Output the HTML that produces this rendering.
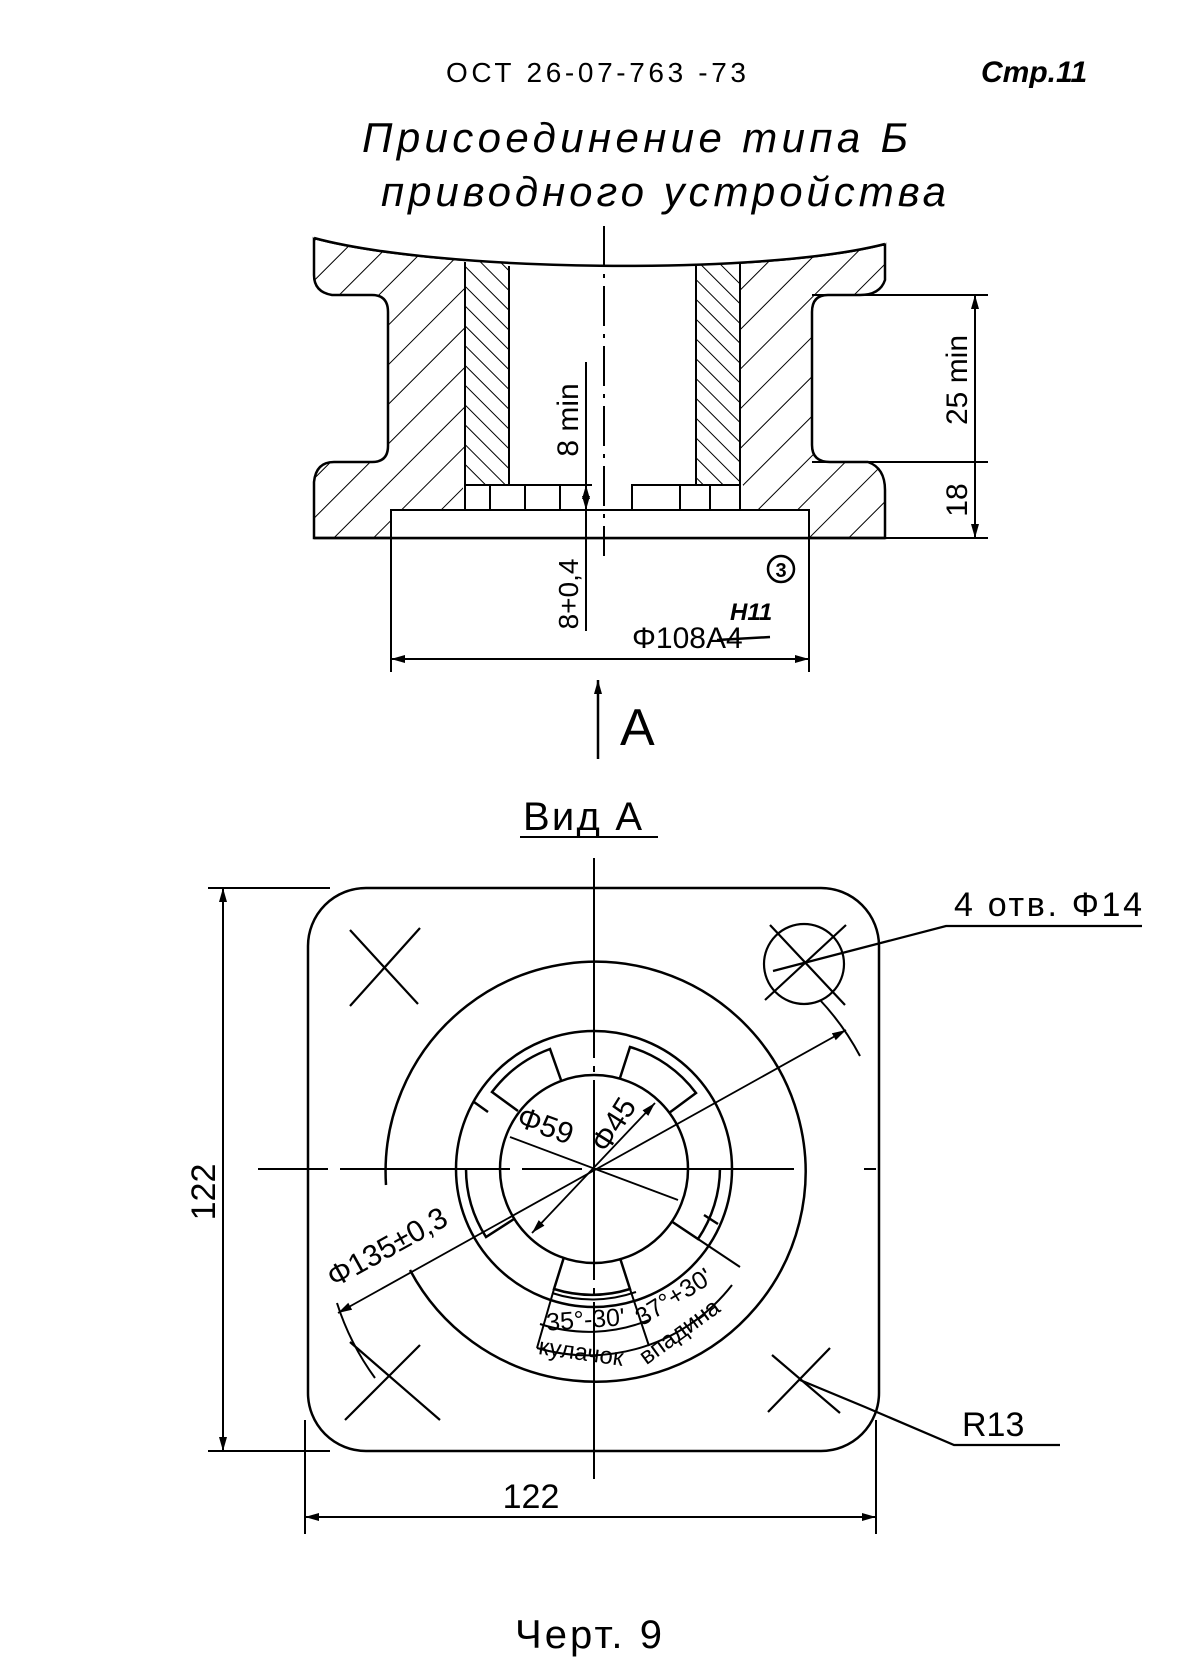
<!DOCTYPE html>
<html><head><meta charset="utf-8"><style>
html,body{margin:0;padding:0;background:#fff;}
svg{display:block;}
text{font-family:"Liberation Sans","DejaVu Sans",sans-serif;fill:#000;}
.it{font-style:italic;}
</style></head><body>
<svg width="1200" height="1661" viewBox="0 0 1200 1661" xmlns="http://www.w3.org/2000/svg">
<defs>
<pattern id="h1" patternUnits="userSpaceOnUse" width="28" height="28" patternTransform="rotate(45)">
<line x1="0" y1="0" x2="0" y2="28" stroke="#000" stroke-width="2"/></pattern>
<pattern id="h2" patternUnits="userSpaceOnUse" width="14" height="14" patternTransform="rotate(-45)">
<line x1="0" y1="0" x2="0" y2="14" stroke="#000" stroke-width="2"/></pattern>
<marker id="ar" markerWidth="14" markerHeight="8" refX="14" refY="4" orient="auto" markerUnits="userSpaceOnUse">
<path d="M0,0 L14,4 L0,8 Z" fill="#000"/></marker>
<marker id="al" markerWidth="14" markerHeight="8" refX="0" refY="4" orient="auto" markerUnits="userSpaceOnUse">
<path d="M14,0 L0,4 L14,8 Z" fill="#000"/></marker>
</defs>

<!-- section -->
<path d="M314,238 C440,272 760,276 885,244 L885,280 Q880,295 860,295 L828,295 Q812,295 812,312 L812,445 Q812,462 830,462 L868,462 Q885,468 885,490 L885,538 L314,538 L314,482 Q316,462 334,462 L372,462 Q388,462 388,446 L388,312 Q388,295 372,295 L332,295 Q314,292 314,275 Z" fill="url(#h1)" stroke="#000" stroke-width="2.5"/>
<rect x="465" y="255" width="44" height="230" fill="#fff"/>
<rect x="696" y="255" width="44" height="230" fill="#fff"/>
<rect x="465" y="255" width="44" height="230" fill="url(#h2)"/>
<rect x="696" y="255" width="44" height="230" fill="url(#h2)"/>
<rect x="509" y="240" width="187" height="245" fill="#fff"/>
<path d="M300,225 L900,225 L885,244 C760,276 440,272 314,238 Z" fill="#fff"/>
<path d="M314,238 C440,272 760,276 885,244" fill="none" stroke="#000" stroke-width="2.5"/>
<line x1="465" y1="262" x2="465" y2="485" stroke="#000" stroke-width="2"/>
<line x1="509" y1="266" x2="509" y2="485" stroke="#000" stroke-width="2"/>
<line x1="696" y1="266" x2="696" y2="485" stroke="#000" stroke-width="2"/>
<line x1="740" y1="262" x2="740" y2="485" stroke="#000" stroke-width="2"/>
<rect x="463" y="485" width="280" height="25" fill="#fff"/>
<path d="M465,510 L465,485 L592,485 M490,485 L490,510 M525,485 L525,510 M560,485 L560,510 M632,510 L632,485 L740,485 L740,510 M680,485 L680,510 M710,485 L710,510" fill="none" stroke="#000" stroke-width="2"/>
<rect x="391" y="510" width="418" height="28" fill="#fff" stroke="#000" stroke-width="2"/>
<line x1="314" y1="538" x2="885" y2="538" stroke="#000" stroke-width="2.5"/>
<line x1="604" y1="226" x2="604" y2="556" stroke="#000" stroke-width="2" stroke-dasharray="40,8,4,8"/>

<!-- header -->
<text x="446" y="82" font-size="28" textLength="300">ОСТ 26-07-763 -73</text>
<text x="981" y="82" font-size="30" class="it" font-weight="bold">Стр.11</text>
<text x="362" y="152" font-size="42" class="it" textLength="546">Присоединение типа Б</text>
<text x="381" y="206" font-size="42" class="it" textLength="565">приводного устройства</text>

<!-- dims right -->
<line x1="812" y1="295" x2="988" y2="295" stroke="#000" stroke-width="2"/>
<line x1="812" y1="462" x2="988" y2="462" stroke="#000" stroke-width="2"/>
<line x1="885" y1="538" x2="988" y2="538" stroke="#000" stroke-width="2"/>
<line x1="975" y1="295" x2="975" y2="538" stroke="#000" stroke-width="2" marker-start="url(#al)" marker-end="url(#ar)"/>
<text transform="translate(967,380) rotate(-90)" font-size="30" text-anchor="middle">25 min</text>
<text transform="translate(967,500) rotate(-90)" font-size="30" text-anchor="middle">18</text>
<!-- 8 min -->
<line x1="586" y1="362" x2="586" y2="631" stroke="#000" stroke-width="2"/>
<line x1="586" y1="485" x2="586" y2="510" stroke="#000" stroke-width="2" marker-start="url(#al)" marker-end="url(#ar)"/>
<text transform="translate(578,420) rotate(-90)" font-size="30" text-anchor="middle">8 min</text>
<text transform="translate(578,594) rotate(-90)" font-size="28" text-anchor="middle">8+0,4</text>
<!-- phi108 -->
<line x1="391" y1="538" x2="391" y2="672" stroke="#000" stroke-width="2"/>
<line x1="809" y1="538" x2="809" y2="672" stroke="#000" stroke-width="2"/>
<line x1="391" y1="659" x2="809" y2="659" stroke="#000" stroke-width="2" marker-start="url(#al)" marker-end="url(#ar)"/>
<text x="632" y="648" font-size="30">Φ108A4</text>
<line x1="717" y1="640" x2="770" y2="637" stroke="#000" stroke-width="2.5"/>
<text x="730" y="620" font-size="24" class="it" font-weight="bold">H11</text>
<circle cx="781" cy="569" r="13" fill="none" stroke="#000" stroke-width="2.5"/>
<text x="781" y="577" font-size="20" text-anchor="middle" font-weight="bold">3</text>
<!-- A arrow -->
<line x1="598" y1="759" x2="598" y2="680" stroke="#000" stroke-width="2.5" marker-end="url(#ar)"/>
<text x="620" y="745" font-size="52">A</text>

<!-- view A -->
<text x="523" y="830" font-size="40" textLength="119">Вид А</text>
<line x1="520" y1="837" x2="658" y2="837" stroke="#000" stroke-width="2"/>

<rect x="308" y="888" width="571" height="563" rx="58" ry="58" fill="none" stroke="#000" stroke-width="2.5"/>
<!-- 122 vertical -->
<line x1="208" y1="888" x2="330" y2="888" stroke="#000" stroke-width="2"/>
<line x1="208" y1="1451" x2="330" y2="1451" stroke="#000" stroke-width="2"/>
<line x1="223" y1="888" x2="223" y2="1451" stroke="#000" stroke-width="2" marker-start="url(#al)" marker-end="url(#ar)"/>
<text transform="translate(215,1192) rotate(-90)" font-size="34" text-anchor="middle">122</text>
<!-- 122 horizontal -->
<line x1="305" y1="1420" x2="305" y2="1534" stroke="#000" stroke-width="2"/>
<line x1="876" y1="1420" x2="876" y2="1534" stroke="#000" stroke-width="2"/>
<line x1="305" y1="1517" x2="876" y2="1517" stroke="#000" stroke-width="2" marker-start="url(#al)" marker-end="url(#ar)"/>
<text x="531" y="1508" font-size="34" text-anchor="middle">122</text>

<!-- center lines -->
<line x1="594" y1="858" x2="594" y2="1479" stroke="#000" stroke-width="2" stroke-dasharray="200,8,6,8"/>
<line x1="258" y1="1169" x2="919" y2="1169" stroke="#000" stroke-width="2" stroke-dasharray="70,12,170,12,60,12,200"/>

<!-- big circle phi135 with gap -->
<path d="M386,1185 A210,210 0 1 1 410,1270" fill="none" stroke="#000" stroke-width="2.5"/>
<circle cx="594" cy="1169" r="138" fill="none" stroke="#000" stroke-width="2.5"/>
<circle cx="594" cy="1169" r="94" fill="none" stroke="#000" stroke-width="2.5"/>
<g fill="none" stroke="#000" stroke-width="2.5">
<path d="M518,1111 L492,1092 A127,127 0 0 1 550,1049 L561,1080"/>
<path d="M620,1078 L630,1047 A127,127 0 0 1 696,1093 L669,1113"/>
<path d="M620,1258 L630,1289 A127,127 0 0 1 554,1289 L564,1257"/>
<path d="M514,1219 L486,1237 A127,127 0 0 1 466,1168"/>
<path d="M720,1168 A127,127 0 0 1 698,1239 L671,1221"/>
<path d="M474,1102 L488,1112 M704,1215 L718,1224" />
</g>
<!-- angle dims -->
<g fill="none" stroke="#000" stroke-width="2">
<path d="M554,1289 L537,1348 M630,1289 L649,1346 M698,1239 L740,1267"/>
<path d="M540,1324 A158,158 0 0 0 649,1320"/>
<path d="M537,1348 A182,182 0 0 0 732,1285"/>
<path d="M552,1293 A130,130 0 0 0 636,1292"/>
</g>
<text transform="translate(586,1328) rotate(-4)" font-size="25" text-anchor="middle">35°-30'</text>
<text transform="translate(678,1304) rotate(-32)" font-size="25" text-anchor="middle">37°+30'</text>
<text transform="translate(580,1360) rotate(8)" font-size="24" text-anchor="middle">кулачок</text>
<text transform="translate(684,1338) rotate(-36)" font-size="24" text-anchor="middle">впадина</text>

<!-- diameter lines -->
<line x1="510" y1="1137" x2="678" y2="1200" stroke="#000" stroke-width="1.8"/>
<line x1="532" y1="1233" x2="655" y2="1103" stroke="#000" stroke-width="1.8" marker-start="url(#al)" marker-end="url(#ar)"/>
<line x1="338" y1="1313" x2="846" y2="1030" stroke="#000" stroke-width="1.8" marker-start="url(#al)" marker-end="url(#ar)"/>
<text transform="translate(542,1135) rotate(20)" font-size="30" text-anchor="middle">Φ59</text>
<text transform="translate(622,1130) rotate(-58)" font-size="30" text-anchor="middle">Φ45</text>
<text transform="translate(392,1256) rotate(-29)" font-size="30" text-anchor="middle">Φ135±0,3</text>
<path d="M337,1303 A260,260 0 0 0 375,1378" fill="none" stroke="#000" stroke-width="2"/>
<path d="M820,1000 A260,260 0 0 1 860,1056" fill="none" stroke="#000" stroke-width="2"/>

<!-- holes / crosses -->
<g stroke="#000" stroke-width="2.2" fill="none">
<path d="M350,930 L418,1004 M420,928 L350,1006"/>
<path d="M350,1342 L440,1420 M420,1345 L345,1420"/>
<path d="M772,1355 L840,1413 M830,1348 L768,1412"/>
<circle cx="804" cy="964" r="40"/>
<path d="M765,1000 L846,925 M770,925 L845,1005"/>
<path d="M773,971 L946,926 L1142,926"/>
<path d="M800,1380 L865,1407 L954,1445 L1060,1445"/>
</g>
<text x="954" y="916" font-size="34" textLength="188">4 отв. Φ14</text>
<text x="962" y="1436" font-size="34">R13</text>

<text x="515" y="1648" font-size="40" textLength="147">Черт. 9</text>
</svg>
</body></html>
